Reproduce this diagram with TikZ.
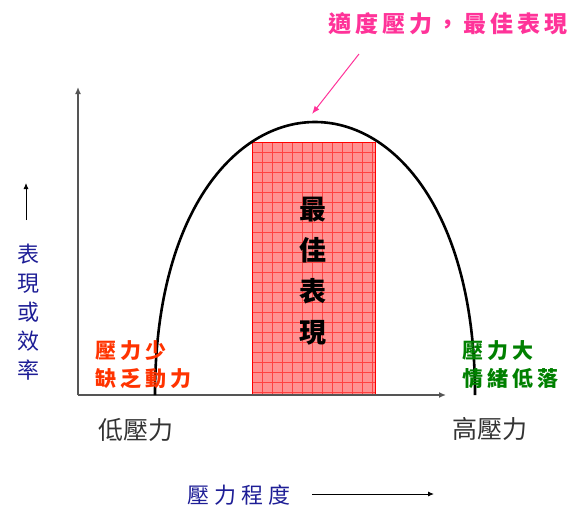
\documentclass[tikz,border=0pt]{standalone}
\usepackage{fontspec}
\usetikzlibrary{arrows.meta}
\newfontfamily\cjk{Noto Sans CJK TC}
\newdimen\chsp
\def\spaced#1#2{\chsp=#1\relax\spacedA#2\relax}
\def\spacedA#1{\ifx\relax#1\unkern\else#1\kern\chsp\expandafter\spacedA\fi}
\definecolor{hotpink}{RGB}{255,51,153}
\definecolor{navyblue}{RGB}{30,30,150}
\definecolor{warnred}{RGB}{255,51,0}
\definecolor{okgreen}{RGB}{0,128,0}
\definecolor{axisgray}{RGB}{85,85,85}
\definecolor{boxfill}{RGB}{255,145,145}
\definecolor{textgray}{RGB}{51,51,51}
\tikzset{
  axisline/.style={draw=axisgray, line width=1.8pt, -{Latex[length=7pt,width=6pt]}},
  thinarrow/.style={draw=black, line width=0.9pt, -{Latex[length=6pt,width=5pt]}},
  sidelabel/.style={font=\cjk\bfseries\fontsize{21}{28}\selectfont, anchor=west, inner sep=0pt},
  lowhigh/.style={font=\cjk\fontsize{25}{30}\selectfont, text=textgray, inner sep=0pt},
}
\begin{document}
\begin{tikzpicture}[x=1pt,y=-1pt]
\useasboundingbox (0,0) rectangle (571,509);
% red box with grid
\fill[boxfill] (252,142) rectangle (375,395);
\foreach \gx in {262,272,...,372} \draw[red!75, line width=0.55pt] (\gx,142) -- (\gx,395);
\foreach \gy in {152,162,...,392} \draw[red!75, line width=0.55pt] (252,\gy) -- (375,\gy);
\draw[red, line width=1pt] (252,142) rectangle (375,395);
\node[font=\cjk\bfseries\fontsize{27}{41}\selectfont, align=center, inner sep=0pt] (best) at (313,271.5) {最\\佳\\表\\現};
% axes
\coordinate (origin) at (78,395);
\coordinate (ytop) at (78,87);
\coordinate (xend) at (446,395);
\draw[axisline] (origin) -- (ytop);
\draw[axisline] (origin) -- (xend);
% curve
\coordinate (cl) at (155,395);
\coordinate (cr) at (475,395);
\draw[black, line width=2.6pt] (cl) .. controls (155,31) and (475,31) .. (cr);
% title and pink arrow
\node[font=\cjk\bfseries\fontsize{23}{28}\selectfont, text=hotpink, inner sep=0pt] (title) at (448,24) {\spaced{4pt}{適度壓力，最佳表現}};
\coordinate (pstart) at (359,54);
\coordinate (pend) at (312,114);
\draw[hotpink, line width=1pt, -{Latex[length=8pt,width=6pt]}] (pstart) -- (pend);
% y label
\coordinate (ya1) at (26,220);
\coordinate (ya2) at (26,183);
\draw[thinarrow] (ya1) -- (ya2);
\node[font=\cjk\fontsize{22}{29}\selectfont, text=navyblue, align=center, inner sep=0pt] (ylab) at (28,312.5) {表\\現\\或\\效\\率};
% side labels
\node[sidelabel, text=warnred] (low1) at (95,351) {\spaced{4pt}{壓力少}};
\node[sidelabel, text=warnred] (low2) at (95,379) {\spaced{4pt}{缺乏動力}};
\node[sidelabel, text=okgreen] (high1) at (462,351) {\spaced{4pt}{壓力大}};
\node[sidelabel, text=okgreen] (high2) at (462,379) {\spaced{4pt}{情緒低落}};
% low / high
\node[lowhigh] (lowp) at (136,430) {低壓力};
\node[lowhigh] (highp) at (490,429) {高壓力};
% x label
\node[font=\cjk\fontsize{22}{28}\selectfont, text=navyblue, anchor=west, inner sep=0pt] (xlab) at (187,495) {\spaced{5pt}{壓力程度}};
\coordinate (xa1) at (312,494);
\coordinate (xa2) at (434,494);
\draw[thinarrow] (xa1) -- (xa2);
\end{tikzpicture}
\end{document}
